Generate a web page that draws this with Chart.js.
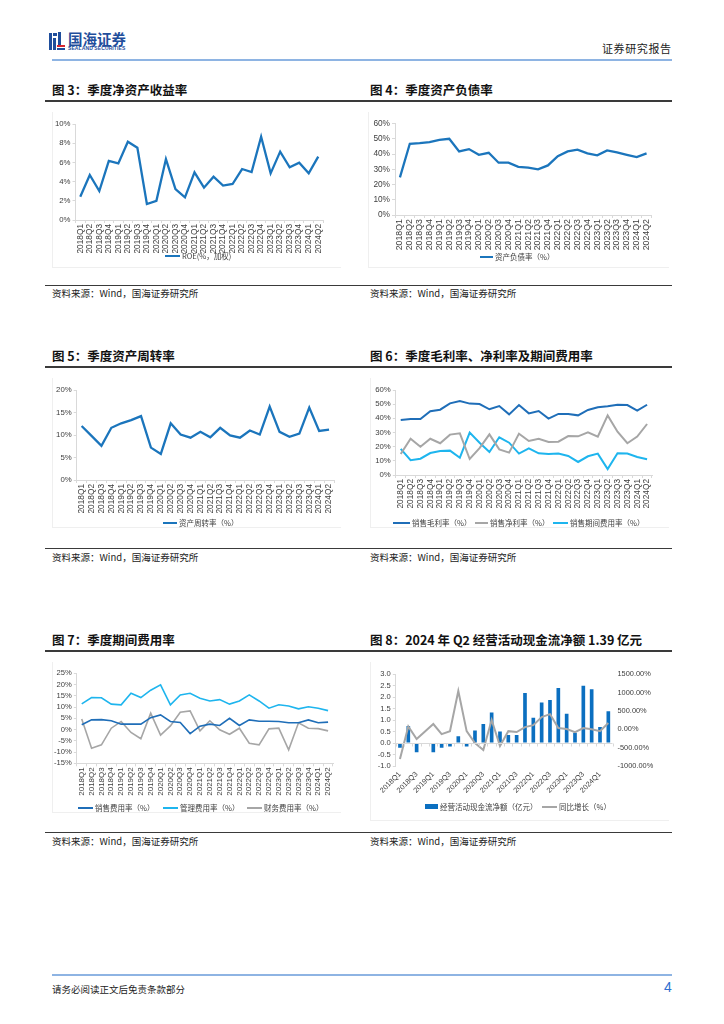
<!DOCTYPE html>
<html><head><meta charset="utf-8">
<script src="https://cdn.jsdelivr.net/npm/chart.js@4.4.1/dist/chart.umd.min.js"></script>
<style>
html,body{margin:0;padding:0;background:#fff;}
body{width:724px;height:1024px;position:relative;overflow:hidden;font-family:"Liberation Sans","Noto Sans CJK SC",sans-serif;}
.abs{position:absolute;}
.cn{font-family:"Noto Sans CJK SC",sans-serif;}
.title{position:absolute;font-family:"Noto Sans CJK SC",sans-serif;font-weight:700;font-size:12.5px;color:#111;line-height:14px;white-space:nowrap;}
.src{position:absolute;font-family:"Noto Sans CJK SC",sans-serif;font-size:9.5px;color:#222;line-height:12px;white-space:nowrap;}
.hl{position:absolute;height:1px;background:#3a3a3a;}
.frame{position:absolute;border-left:1px solid #efefef;border-bottom:1px solid #efefef;}
.lg{position:absolute;font-family:"Noto Sans CJK SC",sans-serif;font-size:7.5px;color:#404040;line-height:10px;white-space:nowrap;}
.lgl{position:absolute;height:2px;}
canvas{position:absolute;}
</style></head>
<body>
<!-- header -->
<div class="abs" style="left:49px;top:33px;width:3px;height:17px;background:#1F4E9C"></div>
<div class="abs" style="left:53px;top:33px;width:4px;height:3px;background:#1F4E9C"></div>
<div class="abs" style="left:53px;top:38px;width:3px;height:12px;background:#1F4E9C"></div>
<div class="abs" style="left:58px;top:32px;width:3px;height:13px;background:#1F4E9C"></div>
<div class="abs" style="left:57px;top:45px;width:8px;height:2px;background:#D7262E"></div>
<div class="abs" style="left:57px;top:48px;width:8px;height:2px;background:#1F4E9C"></div>
<div class="abs cn" style="left:68px;top:30px;font-size:14.5px;font-weight:700;color:#1F4E9C;line-height:17px;letter-spacing:0px">国海证券</div>
<div class="abs" style="left:68px;top:46px;font-size:5px;color:#1F4E9C;line-height:5px;letter-spacing:0.1px;font-weight:700">SEALAND SECURITIES</div>
<div class="abs cn" style="left:602px;top:42px;font-size:11px;color:#222;line-height:13px;letter-spacing:0.6px">证券研究报告</div>
<div class="abs" style="left:52px;top:59px;width:620px;height:2px;background:#8EB4E3"></div>

<!-- row 1 -->
<div class="title" style="left:52px;top:83px">图 3：季度净资产收益率</div>
<div class="title" style="left:370px;top:83px">图 4：季度资产负债率</div>
<div class="hl" style="left:45px;top:100px;width:627px;height:1.5px"></div>
<div class="frame" style="left:52px;top:112px;width:288px;height:155px"></div>
<div class="frame" style="left:368px;top:112px;width:300px;height:155px"></div>
<canvas id="c3" width="290" height="145" style="left:45px;top:112px;width:290px;height:145px"></canvas>
<canvas id="c4" width="300" height="145" style="left:365px;top:112px;width:300px;height:145px"></canvas>
<div class="lgl" style="left:165px;top:255px;width:15px;background:#1B75BC"></div>
<div class="lg" style="left:182px;top:251px">ROE(%，加权)</div>
<div class="lgl" style="left:480px;top:256px;width:13px;background:#1B75BC"></div>
<div class="lg" style="left:495px;top:252px">资产负债率（%）</div>
<div class="hl" style="left:45px;top:285px;width:627px"></div>
<div class="src" style="left:52px;top:287px">资料来源：Wind，国海证券研究所</div>
<div class="src" style="left:370px;top:287px">资料来源：Wind，国海证券研究所</div>

<!-- row 2 -->
<div class="title" style="left:52px;top:349px">图 5：季度资产周转率</div>
<div class="title" style="left:370px;top:349px">图 6：季度毛利率、净利率及期间费用率</div>
<div class="hl" style="left:45px;top:366px;width:627px;height:1.5px"></div>
<div class="frame" style="left:52px;top:378px;width:288px;height:149px"></div>
<div class="frame" style="left:370px;top:378px;width:298px;height:149px"></div>
<canvas id="c5" width="300" height="140" style="left:45px;top:380px;width:300px;height:140px"></canvas>
<canvas id="c6" width="300" height="140" style="left:365px;top:380px;width:300px;height:140px"></canvas>
<div class="lgl" style="left:163px;top:522px;width:14px;background:#1B75BC"></div>
<div class="lg" style="left:179px;top:518px">资产周转率（%）</div>
<div class="lgl" style="left:393px;top:522px;width:17px;background:#1F6EB8"></div>
<div class="lg" style="left:412px;top:518px">销售毛利率（%）</div>
<div class="lgl" style="left:475px;top:522px;width:13px;background:#A6A6A6"></div>
<div class="lg" style="left:490px;top:518px">销售净利率（%）</div>
<div class="lgl" style="left:553px;top:522px;width:15px;background:#1EB5EE"></div>
<div class="lg" style="left:570px;top:518px">销售期间费用率（%）</div>
<div class="hl" style="left:45px;top:548px;width:627px"></div>
<div class="src" style="left:52px;top:551px">资料来源：Wind，国海证券研究所</div>
<div class="src" style="left:370px;top:551px">资料来源：Wind，国海证券研究所</div>

<!-- row 3 -->
<div class="title" style="left:52px;top:633px">图 7：季度期间费用率</div>
<div class="title" style="left:370px;top:633px">图 8：2024 年 Q2 经营活动现金流净额 1.39 亿元</div>
<div class="hl" style="left:45px;top:650px;width:627px;height:1.5px"></div>
<div class="frame" style="left:52px;top:662px;width:288px;height:150px"></div>
<div class="frame" style="left:370px;top:662px;width:298px;height:158px"></div>
<canvas id="c7" width="300" height="140" style="left:45px;top:662px;width:300px;height:140px"></canvas>
<canvas id="c8" width="310" height="140" style="left:365px;top:662px;width:310px;height:140px"></canvas>
<div class="lgl" style="left:78px;top:807px;width:15px;height:1.5px;background:#1F6EB8"></div>
<div class="lg" style="left:95px;top:803px">销售费用率（%）</div>
<div class="lgl" style="left:163px;top:807px;width:15px;height:1.5px;background:#1EB5EE"></div>
<div class="lg" style="left:180px;top:803px">管理费用率（%）</div>
<div class="lgl" style="left:247px;top:807px;width:15px;height:1.5px;background:#A6A6A6"></div>
<div class="lg" style="left:264px;top:803px">财务费用率（%）</div>
<div class="abs" style="left:425px;top:804px;width:13px;height:5px;background:#0B6FC0"></div>
<div class="lg" style="left:440px;top:802px">经营活动现金流净额（亿元）</div>
<div class="lgl" style="left:542px;top:806px;width:15px;background:#A6A6A6"></div>
<div class="lg" style="left:559px;top:802px">同比增长（%）</div>
<div class="hl" style="left:45px;top:832px;width:627px"></div>
<div class="src" style="left:52px;top:835px">资料来源：Wind，国海证券研究所</div>
<div class="src" style="left:370px;top:835px">资料来源：Wind，国海证券研究所</div>

<!-- footer -->
<div class="abs" style="left:52px;top:974px;width:620px;height:2px;background:#8EB4E3"></div>
<div class="abs cn" style="left:52px;top:983px;font-size:9.5px;color:#222;line-height:12px">请务必阅读正文后免责条款部分</div>
<div class="abs" style="left:664px;top:979px;font-size:14px;color:#2F6FD0;line-height:16px">4</div>

<script>
const quarters = ["2018Q1","2018Q2","2018Q3","2018Q4","2019Q1","2019Q2","2019Q3","2019Q4",
"2020Q1","2020Q2","2020Q3","2020Q4","2021Q1","2021Q2","2021Q3","2021Q4",
"2022Q1","2022Q2","2022Q3","2022Q4","2023Q1","2023Q2","2023Q3","2023Q4","2024Q1","2024Q2"];

const roe = [2.43,4.69,3.02,6.15,5.9,8.16,7.53,1.67,2.0,6.35,3.23,2.36,4.97,3.37,4.51,3.58,3.75,5.31,5.0,8.68,4.86,7.12,5.49,5.97,4.86,6.6];
const debtRatio = [24.7,46.7,47.1,47.8,49.3,50.0,41.7,43.2,39.5,40.8,34.3,34.3,31.6,31.0,29.9,32.5,38.6,41.7,42.8,40.4,39.1,42.3,41.0,39.5,38.0,40.4];
const assetTurnover = [12.0,9.8,7.6,11.6,12.6,13.3,14.2,7.2,5.8,12.6,10.1,9.4,10.7,9.5,11.6,9.9,9.4,11.0,10.1,16.3,10.7,9.6,10.3,16.1,10.9,11.2];
const grossMargin = [38.8,39.5,39.5,45.0,46.1,50.6,52.2,50.4,50.1,46.4,48.7,42.8,49.4,43.5,45.2,39.8,43.1,43.1,42.1,45.9,47.8,48.5,49.6,49.4,45.4,49.6];
const netMargin = [14.8,25.6,20.0,25.6,22.4,28.5,29.4,11.3,19.0,28.7,18.1,15.8,29.2,24.0,25.6,23.3,23.5,27.5,27.3,30.1,27.1,42.1,30.6,22.4,27.1,36.0];
const periodExpense = [18.4,10.4,11.5,15.5,16.9,17.2,12.2,29.9,22.8,16.2,26.6,22.8,15.1,18.8,15.3,14.8,15.1,13.4,9.2,13.2,15.1,4.2,15.3,15.1,12.7,11.1];
const salesExpense = [2.1,4.3,4.4,3.9,2.4,2.4,2.4,5.3,6.5,3.6,3.1,-1.8,1.5,2.4,1.8,5.0,1.8,4.3,3.7,3.7,3.6,3.0,3.0,4.3,3.0,3.3];
const adminExpense = [11.4,14.2,14.1,11.3,11.0,16.1,14.2,17.5,19.9,11.0,15.4,16.1,13.9,12.7,13.3,11.3,12.7,15.4,12.7,9.5,11.0,10.5,9.2,10.1,9.5,8.4];
const financeExpense = [4.7,-8.3,-6.8,0.6,3.6,-1.3,-4.1,7.3,-2.5,1.6,7.7,8.3,-0.6,3.9,-0.1,-2.1,0.6,-6.1,-6.8,0.3,0.6,-9.0,3.0,0.6,0.4,-0.6];
const opCashFlow = [-0.2,0.75,-0.4,0,-0.4,-0.2,-0.15,0.3,-0.15,0.55,0.83,1.33,0.5,0.35,0.35,2.18,1.1,1.77,1.88,2.4,1.28,0.45,2.5,2.35,0.7,1.39];
const cashYoY = [-810,80,-265,-60,145,-130,-50,1045,-50,-375,-565,255,-455,-50,-75,60,115,335,415,35,10,-75,35,0,-50,170];

const AX = '#D9D9D9', TK = '#404040';

function xAxis(h, fontSize, rot, every){
  return {
    type:'category', offset:true,
    grid:{display:true, drawOnChartArea:false, offset:true, color:AX, tickLength:3},
    border:{display:true, color:AX},
    ticks:{autoSkip:false, maxRotation:rot, minRotation:rot, padding:1, color:TK,
      font:{family:'Liberation Sans', size:fontSize},
      callback:function(v,i){ const l=this.getLabelForValue(v); return (every && i%every!==0)?'':l; }},
    afterFit:(s)=>{s.height=h;}
  };
}
function yAxis(w, min, max, step, fmt, fontSize, pos){
  return {
    type:'linear', position:pos||'left', min:min, max:max,
    grid:{display:true, drawOnChartArea:false, color:AX, tickLength:3},
    border:{display:true, color:AX},
    ticks:{stepSize:step, autoSkip:false, color:TK, padding:2, font:{family:'Liberation Sans', size:fontSize}, callback:fmt},
    afterFit:(s)=>{s.width=w;}
  };
}
function ds(data,color,width,axis){
  return {type:'line', data:data, borderColor:color, backgroundColor:color, borderWidth:width,
    pointRadius:0, pointHoverRadius:0, tension:0, fill:false, yAxisID:axis||'y', order:0};
}
function lineChart(id, cv, plot, datasets, y, xH, xFont){
  const yW = plot.L - cv.l;
  new Chart(document.getElementById(id), {
    type:'line',
    data:{labels:quarters, datasets:datasets},
    options:{
      responsive:false, animation:false,
      layout:{autoPadding:false, padding:{left:0, top:plot.T-cv.t, right:cv.l+cv.w-plot.R, bottom:0}},
      plugins:{legend:{display:false}, tooltip:{enabled:false}},
      scales:{
        x: xAxis(cv.t+cv.h-plot.B, xFont, 90),
        y: yAxis(yW, y.min, y.max, y.step, y.fmt, y.font)
      }
    }
  });
}
const pct = v => v + '%';

lineChart('c3', {l:45,t:112,w:290,h:145}, {L:75.5,T:124,R:323,B:220},
  [ds(roe,'#1B75BC',2.3)], {min:0,max:10,step:2,fmt:pct,font:7.8}, 0, 8.3);
lineChart('c4', {l:365,t:112,w:300,h:145}, {L:395,T:123.5,R:651.5,B:215},
  [ds(debtRatio,'#1B75BC',2.3)], {min:0,max:60,step:10,fmt:pct,font:8.3}, 0, 8.8);
lineChart('c5', {l:45,t:380,w:300,h:140}, {L:76.7,T:390,R:334,B:480},
  [ds(assetTurnover,'#1B75BC',2.3)], {min:0,max:20,step:5,fmt:pct,font:7.8}, 0, 8.3);
lineChart('c6', {l:365,t:380,w:300,h:140}, {L:395.8,T:390,R:652,B:475},
  [ds(grossMargin,'#1F6EB8',2),ds(netMargin,'#A6A6A6',2),ds(periodExpense,'#1EB5EE',2)],
  {min:0,max:60,step:10,fmt:pct,font:7.8}, 0, 8.3);
lineChart('c7', {l:45,t:662,w:300,h:140}, {L:76.8,T:673.3,R:333,B:763.3},
  [ds(salesExpense,'#1F6EB8',1.6),ds(adminExpense,'#1EB5EE',1.6),ds(financeExpense,'#A6A6A6',1.6)],
  {min:-15,max:25,step:5,fmt:pct,font:7.6}, 0, 8);

// chart 8: bars + line, dual axes, zero baseline drawn through the y scale
const zeroLine = {
  id:'zeroLine',
  afterDatasetsDraw(chart){
    const {ctx, scales:{x,y}} = chart;
    const py = Math.round(y.getPixelForValue(0))+0.5;
    ctx.save();
    ctx.strokeStyle = AX; ctx.lineWidth = 1;
    ctx.beginPath(); ctx.moveTo(x.left, py); ctx.lineTo(x.right, py);
    const n = quarters.length, cw = (x.right-x.left)/n;
    for(let i=0;i<=n;i++){ const px=Math.round(x.left+i*cw)+0.5; ctx.moveTo(px,py); ctx.lineTo(px,py+3); }
    ctx.stroke(); ctx.restore();
  }
};
(function(){
  const cv={l:365,t:662,w:310,h:140}, plot={L:395.8,T:674.3,R:612.5,B:766};
  const xa = xAxis(cv.t+cv.h-plot.B, 7.4, 45, 2);
  xa.grid = {display:false, drawTicks:false}; xa.border = {display:false}; xa.ticks.padding = 4;
  const y1 = yAxis(cv.l+cv.w-plot.R, -1000, 1500, 500, v=>v.toFixed(2)+'%', 7.4, 'right');
  y1.grid = {display:false, drawTicks:false}; y1.border = {display:false}; y1.ticks.padding = 5;
  new Chart(document.getElementById('c8'), {
    data:{labels:quarters, datasets:[
      ds(cashYoY,'#A6A6A6',2,'y1'),
      {type:'bar', data:opCashFlow, backgroundColor:'#0B6FC0', yAxisID:'y', barPercentage:0.44, categoryPercentage:1, order:1}
    ]},
    options:{
      responsive:false, animation:false,
      layout:{autoPadding:false, padding:{left:0, top:plot.T-cv.t, right:0, bottom:0}},
      plugins:{legend:{display:false}, tooltip:{enabled:false}},
      scales:{
        x: xa,
        y: yAxis(plot.L-cv.l, -1, 3, 0.5, v=>v.toFixed(1), 7.6),
        y1: y1
      }
    },
    plugins:[zeroLine]
  });
})();
</script>
</body></html>
